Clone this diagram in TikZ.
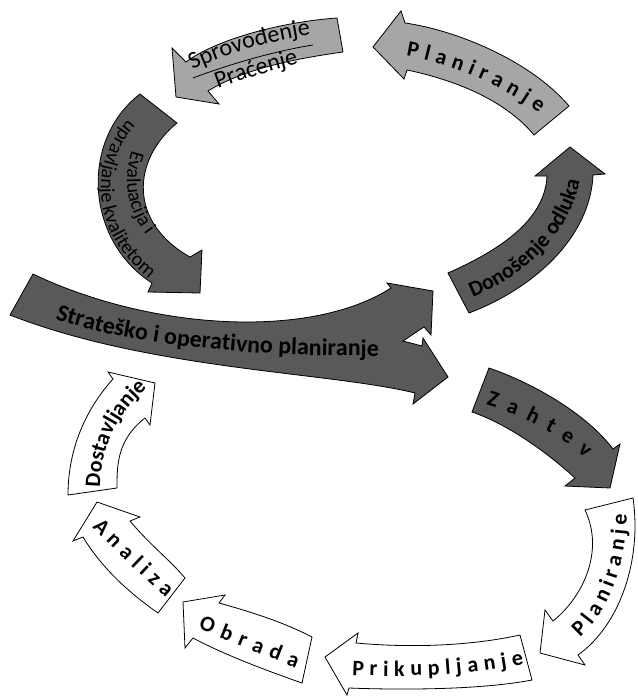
\documentclass[tikz,border=0pt]{standalone}
\usepackage{fontspec}
\setmainfont{Carlito}
\usetikzlibrary{decorations.text}
\definecolor{darkg}{HTML}{595959}
\definecolor{lightg}{HTML}{A6A6A6}
\newcommand\FontSpaced{\fontsize{22}{22}\selectfont\bfseries}
\newcommand\FontBig{\fontsize{24}{24}\selectfont\bfseries}
\newcommand\FontSpr{\fontsize{24}{24}\selectfont}
\newcommand\FontEva{\fontsize{20}{20}\selectfont}
\newcommand\FontMid{\fontsize{22}{22}\selectfont\bfseries}
\tikzset{
  arrdark/.style={fill=darkg, draw=black, line width=0.8pt, line join=miter},
  arrlight/.style={fill=lightg, draw=black, line width=0.8pt, line join=miter},
  arrwhite/.style={fill=white, draw=black, line width=0.8pt, line join=miter},
  fittext/.style={decorate, decoration={text along path, text={|\FontSpaced|#1}, text align={fit to path}}},
  ctext/.style 2 args={decorate, decoration={text along path, text={|#1|#2}, text align=center}},
}
\begin{document}
\begin{tikzpicture}[x=1pt,y=-1pt]
\fill[white] (0,0) rectangle (637,698);
\useasboundingbox (0,0) rectangle (637,698);

% ---- top loop ----
% Planiranje (top right)
\draw[arrlight] (373,47) -- (401,11) -- (405,23) .. controls (455,30) and (530,60) .. (569,106)
  -- (534,135) .. controls (505,100) and (455,80) .. (407,70) -- (404,79) -- cycle;
\path[fittext={Planiranje}] (406,56) .. controls (452,64) and (502,85) .. (539,113);

% Sprovodjenje / Pracenje
\draw[arrlight] (337,18) -- (343,52) .. controls (300,58) and (245,68) .. (208,91)
  -- (219,104) -- (176,97) -- (172,48) -- (186,62) .. controls (215,40) and (280,22) .. (337,18) -- cycle;
\draw[line width=0.8pt] (193,78) .. controls (230,64) and (275,51) .. (313,45);
\path[ctext={\FontSpr}{Sprovođenje}] (184,74) .. controls (220,56) and (268,40) .. (320,34);
\path[ctext={\FontSpr}{Praćenje}] (205,94) .. controls (235,82) and (270,70) .. (312,61);

% Evaluacija
\draw[arrdark] (140,94) -- (177,123) .. controls (132,160) and (128,222) .. (190,257)
  -- (202,250) -- (200,293) -- (148,292) -- (152,283) .. controls (85,240) and (80,140) .. (140,94) -- cycle;
\path[ctext={\FontEva}{upravljanje kvalitetom}] (147,103) .. controls (82,150) and (82,242) .. (170,293);
\path[ctext={\FontEva}{Evaluacija i}] (142,130) .. controls (119,165) and (120,215) .. (162,252);

% Donosenje odluka
\draw[arrdark] (448,273) -- (469,313) .. controls (530,290) and (590,240) .. (593,175)
  -- (605,174) -- (570,147) -- (535,176) -- (547,176) .. controls (545,220) and (500,250) .. (448,273) -- cycle;
\path[ctext={\FontMid}{Donošenje odluka}] (458,303) .. controls (522,281) and (577,232) .. (582,165);

% Strateško (big double arrow)
\draw[arrdark] (33,274) .. controls (150,330) and (310,340) .. (391,288)
  -- (387,283) -- (433,291) -- (431,335) -- (424,327) -- (403,341) -- (422,346)
  -- (423,338) -- (448,377) -- (413,404) -- (415,393) .. controls (330,372) and (150,370) .. (10,315) -- cycle;
\path[ctext={\FontBig}{Strateško i operativno planiranje}] (52,318) .. controls (130,345) and (250,357) .. (382,356);

% ---- bottom loop ----
% Zahtev
\draw[arrdark] (489,368) .. controls (530,382) and (585,412) .. (613,449) -- (620,444) -- (610,488)
  -- (565,486) -- (575,478) .. controls (550,455) and (510,425) .. (472,412) -- cycle;
\path[fittext={Zahtev}] (486,405) .. controls (520,415) and (555,432) .. (585,458);

% Planiranje (bottom right)
\draw[arrwhite] (585,510) -- (633,498) .. controls (642,560) and (620,625) .. (578,655)
  -- (585,665) -- (540,653) -- (545,610) -- (553,621) .. controls (582,598) and (605,552) .. (585,510) -- cycle;
\path[fittext={Planiranje}] (580,637) .. controls (605,615) and (625,575) .. (627,514);

% Prikupljanje
\draw[arrwhite] (520,635) -- (532,680) .. controls (480,690) and (400,690) .. (349,688)
  -- (347,695) -- (325,657) -- (358,633) -- (356,643) .. controls (410,648) and (470,646) .. (520,635) -- cycle;
\path[fittext={Prikupljanje}] (352,675) .. controls (410,678) and (470,675) .. (524,664);

% Obrada
\draw[arrwhite] (312,637) -- (302,683) .. controls (265,670) and (225,655) .. (193,638)
  -- (185,648) -- (183,602) -- (225,595) -- (219,603) .. controls (255,613) and (285,623) .. (312,637) -- cycle;
\path[fittext={Obrada}] (198,629) .. controls (230,641) and (262,655) .. (296,668);

% Analiza
\draw[arrwhite] (185,578) -- (158,613) .. controls (125,590) and (100,565) .. (83,537)
  -- (73,541) -- (97,502) -- (140,517) -- (130,521) .. controls (150,545) and (170,560) .. (185,578) -- cycle;
\path[fittext={Analiza}] (92,527) .. controls (115,550) and (140,575) .. (166,598);

% Dostavljanje
\draw[arrwhite] (68,495) .. controls (68,450) and (85,410) .. (113,379)
  -- (108,372) -- (155,383) -- (150,425) -- (145,418) .. controls (117,440) and (117,465) .. (117,488) -- cycle;
\path[ctext={\FontMid}{Dostavljanje}] (100,490) .. controls (100,450) and (115,415) .. (149,386);
\end{tikzpicture}
\end{document}
